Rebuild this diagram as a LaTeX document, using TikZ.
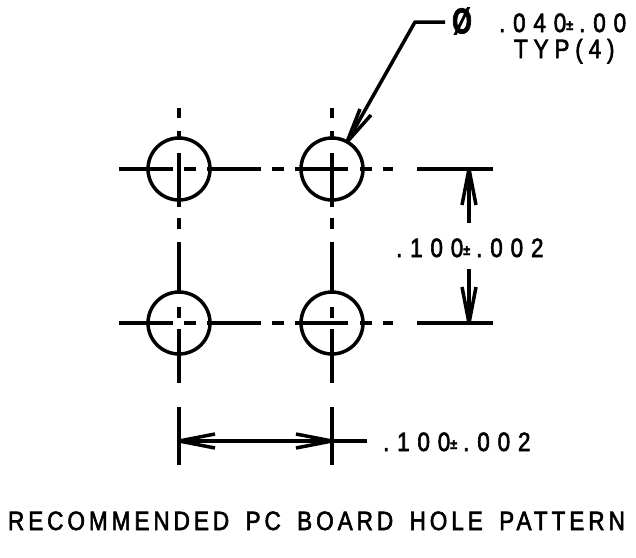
\documentclass[tikz,border=0pt]{standalone}
\usepackage{fontspec}
\setmainfont{Liberation Sans}
\newfontfamily\cadfont[FakeStretch=0.85,LetterSpace=15,FakeBold=2.2,WordSpace=1.6]{Liberation Sans}
\newfontfamily\cadtyp[FakeStretch=0.85,LetterSpace=22,FakeBold=2.2]{Liberation Sans}
\newfontfamily\cadnum[FakeStretch=0.85,LetterSpace=29.5,FakeBold=2.2]{Liberation Sans}
\newfontfamily\cadbold[FakeStretch=0.7,FakeBold=2]{Liberation Sans Bold}
\newfontfamily\cadpm[FakeStretch=0.9,FakeBold=3]{Liberation Sans Bold}
\tikzset{
  x=1pt,y=-1pt,
  cadline/.style={line width=3.5pt,black,line cap=butt},
  hole/.style={circle,draw,line width=3.5pt,minimum size=62pt,inner sep=0pt,outer sep=0pt},
  cadtext/.style={anchor=base west,inner sep=0pt,outer sep=0pt,font=\cadfont\fontsize{26.5}{26.5}\selectfont},
  typtext/.style={anchor=base west,inner sep=0pt,outer sep=0pt,font=\cadtyp\fontsize{26.5}{26.5}\selectfont},
  numtext/.style={anchor=base west,inner sep=0pt,outer sep=0pt,font=\cadnum\fontsize{26.5}{26.5}\selectfont},
}
\newcommand{\smallpm}{\raisebox{2pt}{{\cadpm\fontsize{14}{14}\selectfont ±}}\hspace{6pt}}
\begin{document}
\begin{tikzpicture}
\useasboundingbox (0,0) rectangle (636,557);
\node[hole] (h1) at (179,169) {};
\node[hole] (h2) at (332,169) {};
\node[hole] (h3) at (179,323) {};
\node[hole] (h4) at (332,323) {};
\begin{scope}[cadline]
\foreach \X in {179,332}{
  \draw (\X,108)--(\X,118);
  \draw (\X,131)--(\X,138);
  \draw (\X,153)--(\X,207);
  \draw (\X,218)--(\X,229);
  \draw (\X,242)--(\X,292);
  \draw (\X,307)--(\X,318);
  \draw (\X,329)--(\X,383);
  \draw (\X,407)--(\X,465);
}
\foreach \Y in {169,323}{
  \draw (119,\Y)--(173,\Y);
  \draw (184,\Y)--(196,\Y);
  \draw (207,\Y)--(261,\Y);
  \draw (272,\Y)--(284,\Y);
  \draw (295,\Y)--(348,\Y);
  \draw (360,\Y)--(372,\Y);
  \draw (383,\Y)--(393,\Y);
  \draw (417,\Y)--(493,\Y);
}
\coordinate (dl) at (179,441);
\coordinate (dr) at (332,441);
\coordinate (dre) at (367,441);
\draw (dl)--(dre);
\draw (dl)--++(36,-7) (dl)--++(36,7);
\draw (dr)--++(-36,-7) (dr)--++(-36,7);
\coordinate (vt) at (469,169);
\coordinate (vts) at (469,223);
\coordinate (vb) at (469,323);
\coordinate (vbs) at (469,269);
\draw (vts)--(vt);
\draw (vbs)--(vb);
\draw (vt)--++(-7,36) (vt)--++(7,36);
\draw (vb)--++(-7,-36) (vb)--++(7,-36);
\coordinate (ls) at (445,22);
\coordinate (lk) at (415,22);
\coordinate (lt) at (347,142);
\draw[line join=round] (ls)--(lk)--(lt);
\draw (lt)--(360,109);
\draw (lt)--(371,115);
\end{scope}
\node[anchor=center,inner sep=0pt,font=\cadbold\fontsize{36}{36}\selectfont] (dia) at (462,21) {Ø};
\node[numtext] (t1) at (499,32) {.040\smallpm.00};
\node[typtext] (t2) at (514,58) {TYP(4)};
\node[numtext] (t3) at (396,257) {.100\smallpm.002};
\node[numtext] (t4) at (383,451) {.100\smallpm.002};
\node[cadtext] (t5) at (8,530) {RECOMMENDED PC BOARD HOLE PATTERN};
\end{tikzpicture}
\end{document}
